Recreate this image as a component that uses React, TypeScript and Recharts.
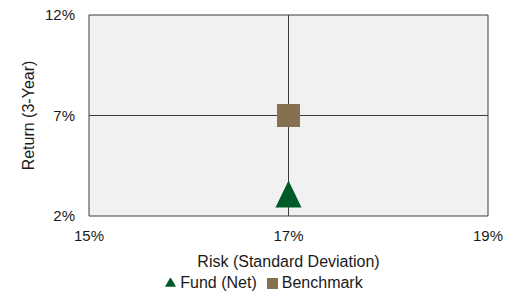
import React from "react";
import {
  CartesianGrid,
  Legend,
  Scatter,
  ScatterChart,
  XAxis,
  YAxis,
} from "recharts";

const seriesNames = ["Fund (Net)", "Benchmark"];
const riskTicks = [15, 17, 19];
const returnTicks = [2, 7, 12];
const fundData = [{ risk: 17.0, ret: 3.1 }];
const benchmarkData = [{ risk: 17.0, ret: 7.0 }];

const FONT = "'Liberation Sans', Arial, sans-serif";
const GREEN = "#005a28";
const BROWN = "#857152";

function Triangle(p: any) {
  const { cx, cy } = p;
  const pts = `${cx},${cy - 13.5} ${cx + 13},${cy + 13.5} ${cx - 13},${cy + 13.5}`;
  return <polygon points={pts} fill={GREEN} />;
}

function Square(p: any) {
  const { cx, cy } = p;
  return <rect x={cx - 11.5} y={cy - 11.5} width={23} height={23} fill={BROWN} />;
}

function YTitle({ viewBox }: any) {
  const x = viewBox.x + 28;
  const y = viewBox.y + viewBox.height / 2;
  return (
    <text
      x={x}
      y={y}
      transform={`rotate(-90, ${x}, ${y})`}
      textAnchor="middle"
      dominantBaseline="central"
      fontSize={16}
      fontFamily={FONT}
      fill="#1a1a1a"
    >
      Return (3-Year)
    </text>
  );
}

const tickStyle = { fontSize: 15, fontFamily: FONT, fill: "#1a1a1a" };

export default function App() {
  return (
    <div style={{ position: "absolute", left: 0, top: 0 }}>
      <ScatterChart
        width={517}
        height={291}
        margin={{ top: 15, right: 29, bottom: 0, left: 0 }}
      >
        <CartesianGrid fill="#f1f1f1" stroke="#3c3c3c" strokeWidth={1} />
        <XAxis
          dataKey="risk"
          type="number"
          domain={[15, 19]}
          ticks={riskTicks}
          tickFormatter={(v) => `${v}%`}
          axisLine={false}
          tickLine={false}
          tickSize={6}
          tickMargin={8}
          height={55}
          tick={tickStyle}
          label={{
            value: "Risk (Standard Deviation)",
            position: "insideBottom",
            offset: 4,
            fontSize: 16,
            fontFamily: FONT,
            fill: "#1a1a1a",
          }}
        />
        <YAxis
          dataKey="ret"
          type="number"
          domain={[2, 12]}
          ticks={returnTicks}
          tickFormatter={(v) => `${v}%`}
          axisLine={false}
          tickLine={false}
          tickSize={6}
          tickMargin={8}
          width={89}
          tick={tickStyle}
          label={<YTitle />}
        />
        <Legend
          verticalAlign="bottom"
          iconSize={11}
          itemSorter={(item: any) => seriesNames.indexOf(item.value)}
          formatter={(v) => <span style={{ color: "#1a1a1a" }}>{v}</span>}
          wrapperStyle={{
            left: 25,
            height: 20,
            boxSizing: "border-box",
            paddingTop: 3,
            fontSize: 16,
            fontFamily: FONT,
            lineHeight: "17px",
          }}
        />
        <Scatter
          name={seriesNames[0]}
          data={fundData}
          fill={GREEN}
          legendType="triangle"
          shape={<Triangle />}
          isAnimationActive={false}
        />
        <Scatter
          name={seriesNames[1]}
          data={benchmarkData}
          fill={BROWN}
          legendType="square"
          shape={<Square />}
          isAnimationActive={false}
        />
      </ScatterChart>
    </div>
  );
}
